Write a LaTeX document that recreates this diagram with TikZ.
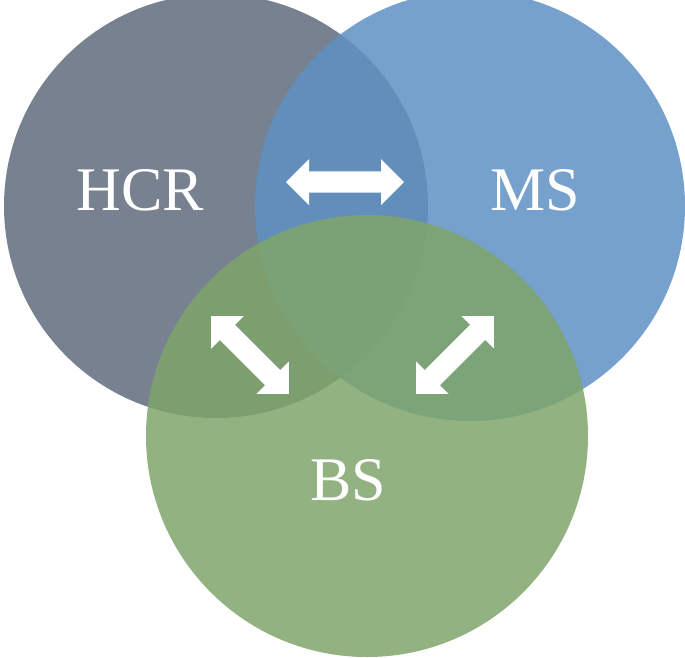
\documentclass[tikz,border=0pt]{standalone}
\usepackage{fontspec}
\setmainfont{Liberation Serif}
\usetikzlibrary{shapes.arrows}
\definecolor{cgray}{HTML}{5F6B7D}
\definecolor{cblue}{HTML}{5E90C4}
\definecolor{cgreen}{HTML}{7FA56B}
\tikzset{
  venn/.style={circle,fill opacity=0.85,text opacity=1,inner sep=0pt},
  lbl/.style={text=white,font=\fontsize{62}{62}\selectfont},
  darr/.style={double arrow,fill=white,draw=none,minimum height=118pt,minimum width=46pt,double arrow head extend=6pt,inner sep=5pt}
}
\begin{document}
\begin{tikzpicture}[x=1pt,y=-1pt]
\useasboundingbox (0,0) rectangle (685,657);
\fill[cgray,opacity=0.85] (216,206) circle (212);
\fill[cblue,opacity=0.85] (470,206) circle (215);
\fill[cgreen,opacity=0.85] (367,436) circle (221);
\node[lbl] (hcr) at (140,190) {HCR};
\node[lbl] (ms) at (535,190) {MS};
\node[lbl] (bs) at (348,480) {BS};
\node[darr] (a1) at (345,182) {};
\node[darr,rotate=-45,minimum height=110pt] (a2) at (250,355) {};
\node[darr,rotate=45,minimum height=110pt] (a3) at (455,355) {};
\end{tikzpicture}
\end{document}
